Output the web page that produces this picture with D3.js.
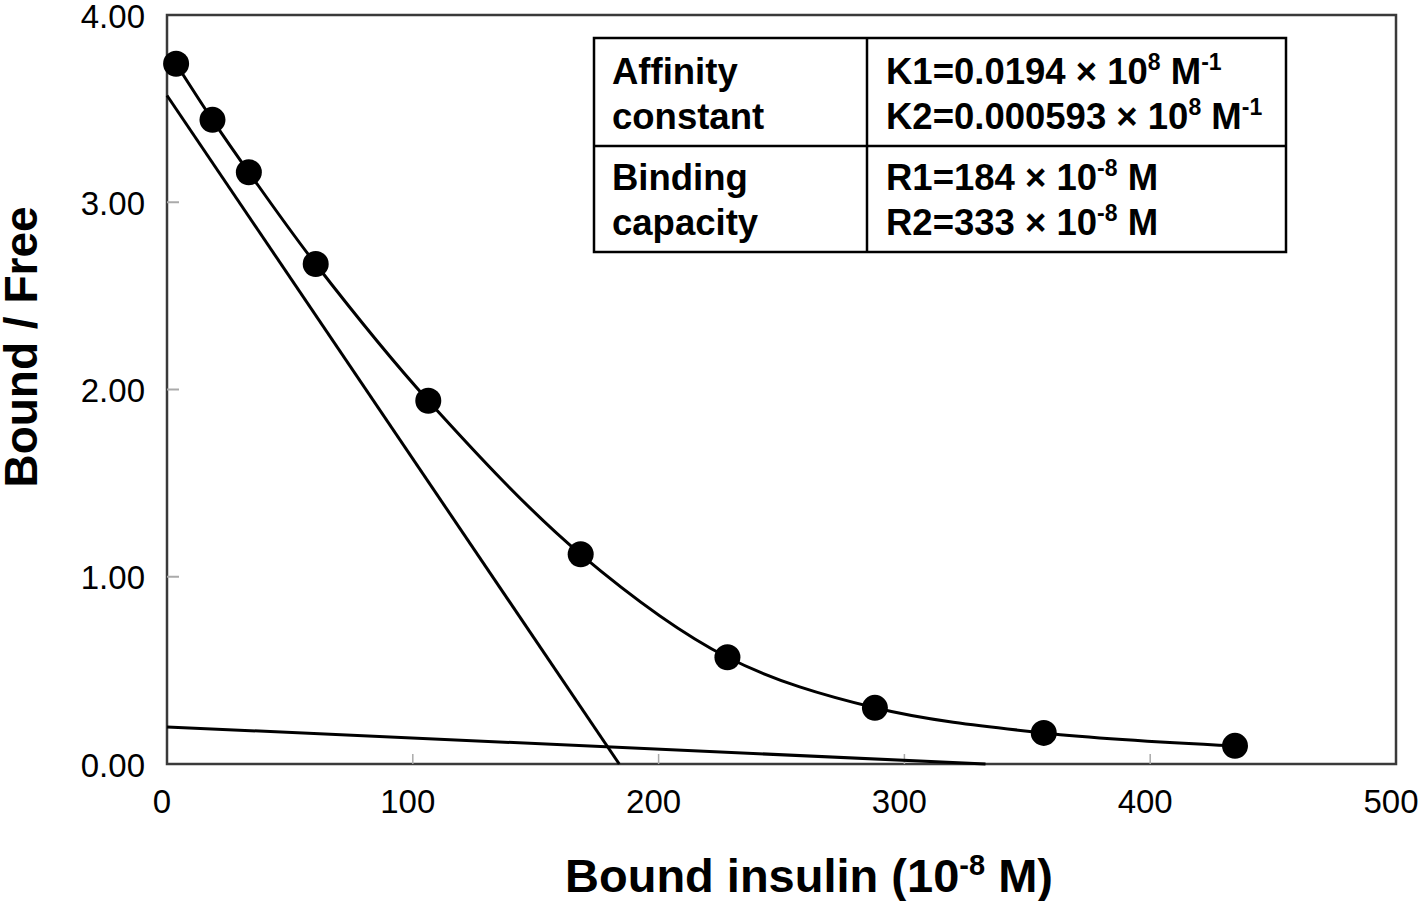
<!DOCTYPE html>
<html>
<head>
<meta charset="utf-8">
<script src="https://cdn.jsdelivr.net/npm/d3@7"></script>
<style>
  html, body { margin: 0; padding: 0; background: #fff; }
  svg { display: block; }
  text { font-family: "Liberation Sans", Arial, Helvetica, sans-serif; fill: #000; }
</style>
</head>
<body>
<svg id="chart" width="1418" height="901"></svg>
<script>
// ---- data ----
const boundInsulin = [3.7, 18.5, 33.3, 60.5, 106.3, 168.3, 228.0, 288.0, 356.7, 434.5];
const boundFree    = [3.74, 3.44, 3.16, 2.67, 1.94, 1.12, 0.57, 0.30, 0.166, 0.097];
// Scatchard component lines (intercepts)
const siteHighX = [0, 184];
const siteHighY = [3.57, 0];
const siteLowX  = [0, 333];
const siteLowY  = [0.198, 0];
const xTicks = [0, 100, 200, 300, 400, 500];
const yTicks = [0, 1, 2, 3, 4];
const yTickLabels = ["0.00", "1.00", "2.00", "3.00", "4.00"];
const tableLabels = [["Affinity", "constant"], ["Binding", "capacity"]];
const tableValues = [
  [["K1=0.0194", "8", "-1"], ["K2=0.000593", "8", "-1"]],
  [["R1=184", "-8", ""], ["R2=333", "-8", ""]]
];

const svg = d3.select("#chart");
const x = d3.scaleLinear().domain([0, 500]).range([167, 1396]);
const y = d3.scaleLinear().domain([0, 4]).range([764, 15]);

// frame
svg.append("rect")
  .attr("x", x(0)).attr("y", y(4))
  .attr("width", x(500) - x(0)).attr("height", y(0) - y(4))
  .attr("fill", "none").attr("stroke", "#3a3a3a").attr("stroke-width", 2.5);

// inward ticks
svg.append("g").selectAll("line").data(yTicks.slice(1, -1)).join("line")
  .attr("x1", x(0)).attr("x2", x(0) + 12)
  .attr("y1", d => y(d)).attr("y2", d => y(d))
  .attr("stroke", "#aaa").attr("stroke-width", 2);
svg.append("g").selectAll("line").data(xTicks.slice(1, -1)).join("line")
  .attr("x1", d => x(d)).attr("x2", d => x(d))
  .attr("y1", y(0)).attr("y2", y(0) - 10)
  .attr("stroke", "#aaa").attr("stroke-width", 1.5);

// tick labels
svg.append("g").selectAll("text").data(yTicks).join("text")
  .attr("x", 145).attr("y", d => y(d) + 12.5)
  .attr("text-anchor", "end").attr("font-size", 33)
  .text((d, i) => yTickLabels[i]);
svg.append("g").selectAll("text").data(xTicks).join("text")
  .attr("x", d => x(d) - 5).attr("y", 813)
  .attr("text-anchor", "middle").attr("font-size", 33)
  .text(d => d);

// axis titles
const xt = svg.append("text").attr("x", 809).attr("y", 892)
  .attr("text-anchor", "middle").attr("font-size", 47).attr("font-weight", "bold");
xt.append("tspan").text("Bound insulin (10");
xt.append("tspan").attr("font-size", 29).attr("dy", -17).text("-8");
xt.append("tspan").attr("dy", 17).text(" M)");

svg.append("text")
  .attr("transform", "translate(37,347) rotate(-90)")
  .attr("text-anchor", "middle").attr("font-size", 46).attr("font-weight", "bold")
  .text("Bound / Free");

// component lines
const lineGen = d3.line().x(d => x(d[0])).y(d => y(d[1]));
svg.append("path").datum(d3.zip(siteHighX, siteHighY))
  .attr("d", lineGen).attr("fill", "none").attr("stroke", "#000").attr("stroke-width", 3);
svg.append("path").datum(d3.zip(siteLowX, siteLowY))
  .attr("d", lineGen).attr("fill", "none").attr("stroke", "#000").attr("stroke-width", 3);

// fitted curve through the points
const pts = d3.zip(boundInsulin, boundFree);
svg.append("path").datum(pts)
  .attr("d", d3.line().x(d => x(d[0])).y(d => y(d[1])).curve(d3.curveCatmullRom.alpha(0.5)))
  .attr("fill", "none").attr("stroke", "#000").attr("stroke-width", 3);

// points
svg.append("g").selectAll("circle").data(pts).join("circle")
  .attr("cx", d => x(d[0])).attr("cy", d => y(d[1])).attr("r", 13).attr("fill", "#000");

// table
const tb = svg.append("g");
const tx0 = 594, tx1 = 867, tx2 = 1286, ty0 = 38, ty1 = 146, ty2 = 252;
tb.append("rect").attr("x", tx0).attr("y", ty0).attr("width", tx2 - tx0).attr("height", ty2 - ty0)
  .attr("fill", "#fff").attr("stroke", "#000").attr("stroke-width", 2.5);
tb.append("line").attr("x1", tx0).attr("x2", tx2).attr("y1", ty1).attr("y2", ty1)
  .attr("stroke", "#000").attr("stroke-width", 2.5);
tb.append("line").attr("x1", tx1).attr("x2", tx1).attr("y1", ty0).attr("y2", ty2)
  .attr("stroke", "#000").attr("stroke-width", 2.5);

const rowBase = [[84, 129], [190, 235]];
tableLabels.forEach((lines, r) => {
  lines.forEach((t, k) => {
    tb.append("text").attr("x", 612).attr("y", rowBase[r][k])
      .attr("font-size", 36.5).attr("font-weight", "bold").text(t);
  });
});
tableValues.forEach((lines, r) => {
  lines.forEach((v, k) => {
    const t = tb.append("text").attr("x", 886).attr("y", rowBase[r][k])
      .attr("font-size", 36.5).attr("font-weight", "bold");
    t.append("tspan").text(v[0] + " \u00D7 10");
    t.append("tspan").attr("font-size", 23).attr("dy", -14).text(v[1]);
    t.append("tspan").attr("dy", 14).text(" M");
    if (v[2]) t.append("tspan").attr("font-size", 23).attr("dy", -14).text(v[2]);
  });
});
</script>
</body>
</html>
